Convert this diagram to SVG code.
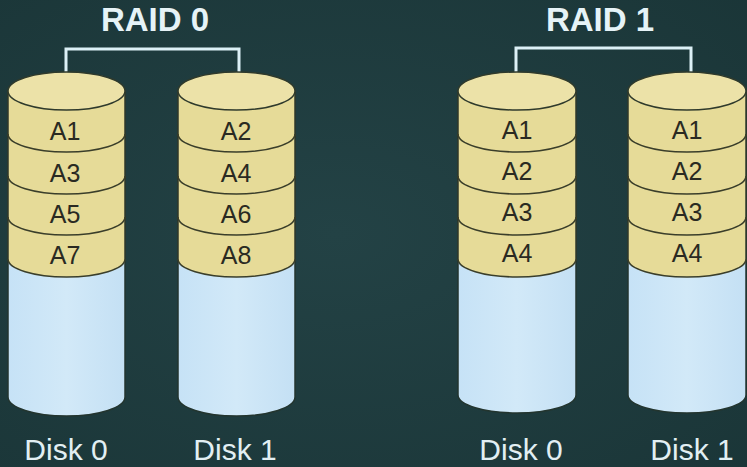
<svg xmlns="http://www.w3.org/2000/svg" width="747" height="467" viewBox="0 0 747 467">
<defs>
<radialGradient id="bg" cx="0.45" cy="0.5" r="0.8">
<stop offset="0" stop-color="#234245"/>
<stop offset="1" stop-color="#1a3537"/>
</radialGradient>
<linearGradient id="blue" x1="0" y1="0" x2="1" y2="0">
<stop offset="0" stop-color="#c6e2f6"/>
<stop offset="0.5" stop-color="#d2e9f8"/>
<stop offset="1" stop-color="#c4e0f4"/>
</linearGradient>
</defs>
<style>
.body{fill:url(#blue);stroke:#23352f;stroke-width:1.5}
.data{fill:#e6db98;stroke:none}
.top{fill:#ece2a8;stroke:#2f3a2c;stroke-width:1.5}
.band{fill:none;stroke:#3a3e2a;stroke-width:1.6}
.side{fill:none;stroke:#2f3a2c;stroke-width:1.5}
.lbl{font-family:"Liberation Sans",Arial,sans-serif;font-size:25px;fill:#2a2a22;text-anchor:middle}
.title{font-family:"Liberation Sans",Arial,sans-serif;font-weight:bold;font-size:33px;fill:#e6f3f7;text-anchor:middle}
.disk{font-family:"Liberation Sans",Arial,sans-serif;font-size:30px;fill:#e2eff3;text-anchor:middle}
.conn{fill:none;stroke:#dcf0f6;stroke-width:3}
</style>
<rect width="747" height="467" fill="url(#bg)"/>
<text class="title" x="155" y="31">RAID 0</text>
<text class="title" x="600" y="31">RAID 1</text>
<g id="connectors">
<path class="conn" d="M66,90 V49 H239 V90"/>
<path class="conn" d="M516,90 V48 H691 V90"/>
</g>
<g id="r0d0">
<path class="body" d="M8,91 V397 A58.5,19 0 0 0 125,397 V91 Z"/>
<path class="data" d="M8,91 V259 A58.5,18 0 0 0 125,259 V91 Z"/>
<path class="side" d="M8,91 V259 M125,91 V259"/>
<ellipse class="top" cx="66.5" cy="91" rx="58.5" ry="19"/>
<path class="band" d="M8,134 A58.5,18 0 0 0 125,134 M8,176 A58.5,18 0 0 0 125,176 M8,217 A58.5,18 0 0 0 125,217 M8,259 A58.5,18 0 0 0 125,259"/>
<text class="lbl" x="65" y="140">A1</text>
<text class="lbl" x="65" y="182">A3</text>
<text class="lbl" x="65" y="223">A5</text>
<text class="lbl" x="65" y="264">A7</text>
<text class="disk" x="66" y="460">Disk 0</text>
</g>
<g id="r0d1">
<path class="body" d="M178,91 V397 A58.5,19 0 0 0 295,397 V91 Z"/>
<path class="data" d="M178,91 V259 A58.5,18 0 0 0 295,259 V91 Z"/>
<path class="side" d="M178,91 V259 M295,91 V259"/>
<ellipse class="top" cx="236.5" cy="91" rx="58.5" ry="19"/>
<path class="band" d="M178,134 A58.5,18 0 0 0 295,134 M178,176 A58.5,18 0 0 0 295,176 M178,217 A58.5,18 0 0 0 295,217 M178,259 A58.5,18 0 0 0 295,259"/>
<text class="lbl" x="236" y="140">A2</text>
<text class="lbl" x="236" y="182">A4</text>
<text class="lbl" x="236" y="223">A6</text>
<text class="lbl" x="236" y="264">A8</text>
<text class="disk" x="235" y="460">Disk 1</text>
</g>
<g id="r1d0">
<path class="body" d="M458,91 V395 A59,18 0 0 0 576,395 V91 Z"/>
<path class="data" d="M458,91 V259 A59,18 0 0 0 576,259 V91 Z"/>
<path class="side" d="M458,91 V259 M576,91 V259"/>
<ellipse class="top" cx="517" cy="91" rx="59" ry="19"/>
<path class="band" d="M458,134 A59,18 0 0 0 576,134 M458,176 A59,18 0 0 0 576,176 M458,217 A59,18 0 0 0 576,217 M458,259 A59,18 0 0 0 576,259"/>
<text class="lbl" x="517" y="139">A1</text>
<text class="lbl" x="517" y="180">A2</text>
<text class="lbl" x="517" y="221">A3</text>
<text class="lbl" x="517" y="262">A4</text>
<text class="disk" x="521" y="460">Disk 0</text>
</g>
<g id="r1d1">
<path class="body" d="M628,91 V395 A59,18 0 0 0 746,395 V91 Z"/>
<path class="data" d="M628,91 V259 A59,18 0 0 0 746,259 V91 Z"/>
<path class="side" d="M628,91 V259 M746,91 V259"/>
<ellipse class="top" cx="687" cy="91" rx="59" ry="19"/>
<path class="band" d="M628,134 A59,18 0 0 0 746,134 M628,176 A59,18 0 0 0 746,176 M628,217 A59,18 0 0 0 746,217 M628,259 A59,18 0 0 0 746,259"/>
<text class="lbl" x="687" y="139">A1</text>
<text class="lbl" x="687" y="180">A2</text>
<text class="lbl" x="687" y="221">A3</text>
<text class="lbl" x="687" y="262">A4</text>
<text class="disk" x="692" y="460">Disk 1</text>
</g>
</svg>
